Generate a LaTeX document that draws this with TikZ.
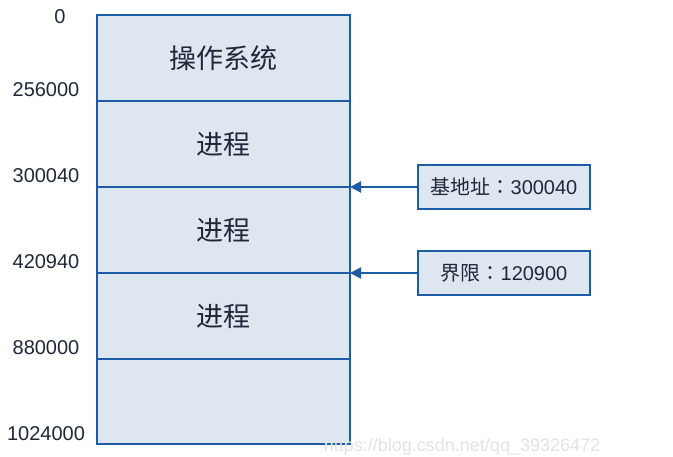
\documentclass[tikz,border=0pt]{standalone}
\usepackage{fontspec}
\setmainfont{Liberation Sans}
\newfontfamily\cjk{Noto Sans CJK SC}
\newfontfamily\cjkjp{Noto Sans CJK JP}
\usetikzlibrary{arrows.meta,positioning}
\definecolor{memblue}{RGB}{28,92,164}
\definecolor{memfill}{RGB}{222,230,240}
\definecolor{memtext}{RGB}{30,40,56}

\begin{document}
\begin{tikzpicture}[
  x=1pt, y=-1pt,
  seg/.style={draw=memblue, fill=memfill, line width=2pt, outer sep=0pt, inner sep=0pt,
    minimum width=253pt, minimum height=86pt, text=memtext,
    font=\cjk\fontsize{27}{32}\selectfont},
  addr/.style={text=memtext, inner sep=0pt, font=\fontsize{20}{24}\selectfont},
  reg/.style={draw=memblue, fill=memfill, line width=2pt, inner sep=0pt, outer sep=0pt,
    minimum width=172pt, minimum height=44pt, text=memtext, font=\fontsize{20}{24}\selectfont},
  arr/.style={-{Triangle[length=11pt,width=11pt]}, draw=memblue, line width=2pt}
]
\useasboundingbox (0,0) rectangle (673,457);
% memory column
\node[seg] (os) at (223.5,58) {操作系统};
\node[seg, below=0pt of os] (p1) {进程};
\node[seg, below=0pt of p1] (p2) {进程};
\node[seg, below=0pt of p2] (p3) {进程};
\node[seg, below=0pt of p3, minimum height=85pt] (free) {};
% addresses
\node[addr] (a0) at (60,17) {0};
\node[addr] (a1) at (46,90) {256000};
\node[addr] (a2) at (46,176) {300040};
\node[addr] (a3) at (46,262) {420940};
\node[addr] (a4) at (46,348) {880000};
\node[addr] (a5) at (46,434) {1024000};
% registers
\node[reg] (base) at (504,187) {{\cjk 基地址}{\cjkjp ：}300040};
\node[reg] (limit) at (504,273) {{\cjk 界限}{\cjkjp ：}120900};
\draw[arr] (base.west) -- (p1.south east);
\draw[arr] (limit.west) -- (p2.south east);
\node[text=gray!22, inner sep=0pt, font=\fontsize{18}{21}\selectfont] (wm) at (462,447) {https://blog.csdn.net/qq\_39326472};
\end{tikzpicture}
\end{document}
